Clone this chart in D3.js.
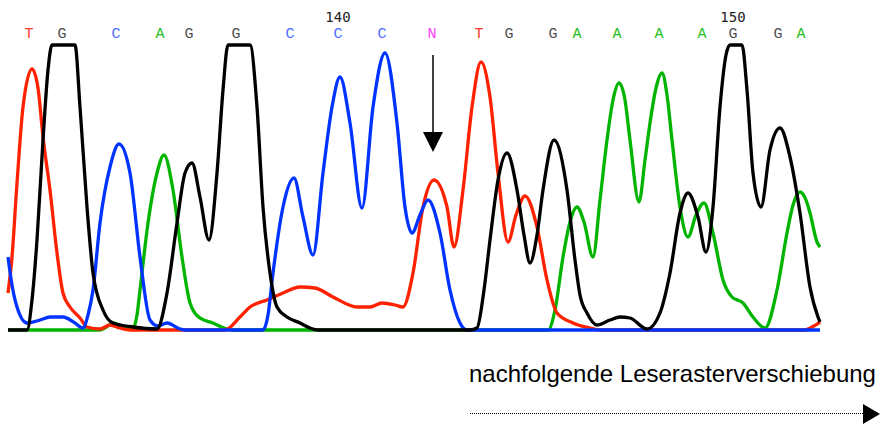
<!DOCTYPE html>
<html>
<head>
<meta charset="utf-8">
<script src="https://cdn.jsdelivr.net/npm/d3@7"></script>
<style>
  body { margin: 0; background: #fff; }
</style>
</head>
<body>
<div id="chart"></div>
<script>
// base calls and their scan positions
var baseCalls = ["T","G","C","A","G","G","C","C","C","N","T","G","G","A","A","A","A","G","G","A"];
var basePos = [21,54,108,152,181,228,282,330,374,424,471,501,545,569,609,651,694,725,770,793];
var firstBase = 133;
var tickNumbers = [140, 150];
var mutationBase = "N";

// traces: [scan, intensity]
var traceT = [[0,37],[4,73],[9,147],[15,223],[24,261],[30,242],[35,193],[42,140],[49,77],[55,37],[62,23],[72,12],[79,3],[92,1],[102,5],[112,2],[122,0],[217,0],[232,13],[242,23],[259,30],[275,37],[292,43],[307,42],[325,33],[349,23],[362,23],[374,27],[387,25],[395,23],[405,57],[415,123],[426,150],[439,123],[446,83],[455,140],[464,223],[473,268],[482,233],[490,157],[500,88],[508,115],[517,134],[529,103],[539,50],[549,17],[565,7],[582,2],[592,0],[797,0],[804,3],[812,8]];
var traceG = [[0,0],[19,0],[24,30],[29,90],[35,190],[40,260],[44,285],[67,285],[72,223],[79,123],[85,57],[95,20],[105,7],[125,3],[149,1],[159,37],[169,107],[177,157],[184,167],[192,133],[201,90],[209,157],[215,240],[220,285],[242,285],[249,223],[255,123],[262,57],[269,23],[279,13],[292,7],[302,2],[310,0],[462,0],[469,2],[476,40],[482,90],[490,150],[499,177],[509,140],[516,95],[522,67],[529,95],[535,140],[546,190],[559,140],[567,70],[572,35],[579,17],[589,5],[602,10],[612,13],[622,12],[639,1],[652,17],[662,57],[672,117],[680,137],[690,113],[698,78],[705,123],[712,223],[718,275],[722,285],[734,285],[739,240],[745,157],[753,123],[762,180],[772,202],[782,173],[792,117],[802,43],[810,13],[812,8]];
var traceC = [[0,73],[4,45],[9,23],[19,7],[32,10],[42,13],[55,13],[67,7],[75,2],[80,15],[85,40],[92,107],[102,163],[111,186],[122,157],[132,73],[142,10],[150,4],[159,7],[172,1],[177,0],[255,0],[260,15],[265,57],[275,123],[286,152],[295,113],[305,75],[315,157],[324,223],[332,253],[342,207],[354,122],[365,223],[377,277],[389,207],[397,123],[404,97],[412,115],[420,130],[432,97],[442,40],[452,7],[459,0],[812,0]];
var traceA = [[0,0],[92,0],[97,2],[105,7],[114,4],[125,2],[129,15],[132,40],[140,107],[149,157],[156,175],[165,140],[174,73],[182,27],[192,12],[205,7],[219,1],[224,0],[540,0],[547,20],[555,73],[562,108],[569,123],[576,108],[585,73],[592,130],[599,190],[605,230],[611,247],[617,230],[622,190],[631,128],[637,170],[642,207],[648,242],[654,257],[659,235],[664,190],[672,123],[680,93],[688,115],[696,127],[705,97],[715,50],[724,33],[735,27],[745,13],[757,2],[769,40],[779,97],[785,125],[792,138],[798,130],[802,117],[809,88],[812,83]];

var annotation = "nachfolgende Leserasterverschiebung";

var width = 881, height = 431;
var baseColor = { T: "#ff3a2a", G: "#505050", C: "#4a6cff", A: "#22c022", N: "#ff3cff" };

const svg = d3
  .select("#chart")
  .append("svg")
  .attr("width", width)
  .attr("height", height);

const x = d3.scaleLinear().domain([0, 812]).range([8, 820]);
const y = d3.scaleLinear().domain([0, 286]).range([330, 44]);

const line = d3
  .line()
  .x(function (d) { return x(d[0]); })
  .y(function (d) { return y(d[1]); })
  .curve(d3.curveMonotoneX);

// traces
var traces = [
  { data: traceA, color: "#00b400" },
  { data: traceT, color: "#ff2200" },
  { data: traceC, color: "#0033ff" },
  { data: traceG, color: "#000000" }
];
svg
  .append("g")
  .selectAll("path")
  .data(traces)
  .join("path")
  .attr("d", function (d) { return line(d.data); })
  .attr("fill", "none")
  .attr("stroke", function (d) { return d.color; })
  .attr("stroke-width", 3.3)
  .attr("stroke-linejoin", "round");

// base call letters
svg
  .append("g")
  .selectAll("text")
  .data(baseCalls)
  .join("text")
  .attr("x", function (d, i) { return x(basePos[i]); })
  .attr("y", 38)
  .attr("text-anchor", "middle")
  .attr("font-family", "Liberation Mono, monospace")
  .attr("font-size", "15px")
  .attr("fill", function (d) { return baseColor[d]; })
  .text(function (d) { return d; });

// position numbers
svg
  .append("g")
  .selectAll("text")
  .data(tickNumbers)
  .join("text")
  .attr("x", function (d) { return x(basePos[d - firstBase]); })
  .attr("y", 22)
  .attr("text-anchor", "middle")
  .attr("font-family", "DejaVu Sans Mono, monospace")
  .attr("font-size", "14px")
  .attr("fill", "#222")
  .text(function (d) { return d; });

// arrow pointing at the ambiguous base
var ax = x(basePos[baseCalls.indexOf(mutationBase)]) + 1;
svg.append("line")
  .attr("x1", ax).attr("x2", ax)
  .attr("y1", 55).attr("y2", 134)
  .attr("stroke", "#000")
  .attr("stroke-width", 1.5);
svg.append("path")
  .attr("d", `M${ax - 10},132 L${ax + 10},132 L${ax},152 Z`)
  .attr("fill", "#000");

// annotation
svg.append("text")
  .attr("x", 469)
  .attr("y", 382)
  .attr("font-family", "Liberation Sans, Arial, sans-serif")
  .attr("font-size", "24px")
  .attr("fill", "#000")
  .text(annotation);

svg.append("line")
  .attr("x1", 470).attr("x2", 864)
  .attr("y1", 413.5).attr("y2", 413.5)
  .attr("stroke", "#000")
  .attr("stroke-width", 1)
  .attr("stroke-dasharray", "1,1");
svg.append("path")
  .attr("d", "M863,404 L880,414 L863,424 Z")
  .attr("fill", "#000");
</script>
</body>
</html>
